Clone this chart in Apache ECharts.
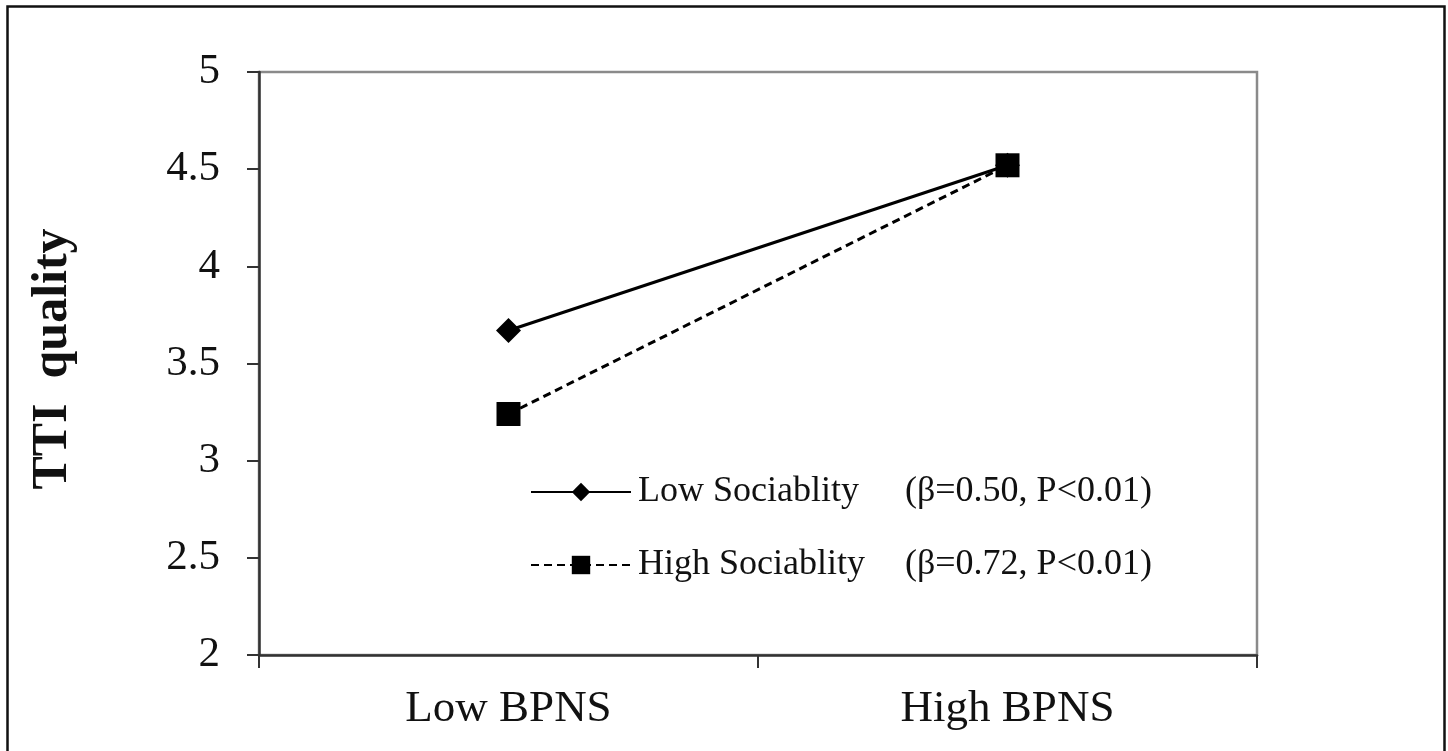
<!DOCTYPE html>
<html>
<head>
<meta charset="utf-8">
<script src="https://cdn.jsdelivr.net/npm/echarts@6/dist/echarts.min.js"></script>
<style>
html,body{margin:0;padding:0;background:#fff;}
#chart{width:1448px;height:751px;}
</style>
</head>
<body>
<div id="chart"></div>
<script>
const categories = ['Low BPNS', 'High BPNS'];
const seriesNames = ['Low Sociablity', 'High Sociablity'];
const seriesStats = ['(β=0.50, P<0.01)', '(β=0.72, P<0.01)'];
const lowSociability = [3.67, 4.52];
const highSociability = [3.24, 4.52];
const yTicks = { min: 2, max: 5, interval: 0.5 };
const yAxisTitle = 'TTI  quality';

const FONT = "'Liberation Serif', 'Times New Roman', serif";
const chart = echarts.init(document.getElementById('chart'));

function legendFor(idx, top) {
  return {
    show: true,
    data: [seriesNames[idx]],
    left: 530,
    top: top,
    itemWidth: 100,
    itemHeight: 23,
    itemGap: 0,
    padding: 0,
    selectedMode: false,
    formatter: function (name) {
      return '{a|' + name + '}{b|' + seriesStats[idx] + '}';
    },
    textStyle: {
      color: '#111',
      fontFamily: FONT,
      fontSize: 36,
      padding: [0, 0, 0, 2],
      rich: {
        a: { fontFamily: FONT, fontSize: 36, color: '#111', width: 267 },
        b: { fontFamily: FONT, fontSize: 36, color: '#111' }
      }
    }
  };
}

chart.setOption({
  animation: false,
  backgroundColor: '#fff',
  graphic: [{
    type: 'rect',
    shape: { x: 7.5, y: 6.5, width: 1437, height: 760 },
    style: { fill: 'none', stroke: '#111', lineWidth: 2.5 },
    silent: true
  }],
  grid: {
    left: 259, right: 191, top: 72, bottom: 96,
    show: true, borderColor: '#8a8a8a', borderWidth: 2.5, backgroundColor: 'transparent'
  },
  legend: [legendFor(0, 474), legendFor(1, 547)],
  xAxis: {
    type: 'category',
    data: categories,
    boundaryGap: true,
    axisLine: { lineStyle: { color: '#333', width: 2.5 } },
    axisTick: { show: true, length: 13, inside: false, lineStyle: { color: '#333', width: 2 } },
    axisLabel: { color: '#111', fontFamily: FONT, fontSize: 45, margin: 32 },
    splitLine: { show: false }
  },
  yAxis: {
    type: 'value',
    min: yTicks.min, max: yTicks.max, interval: yTicks.interval,
    name: yAxisTitle,
    nameLocation: 'middle',
    nameRotate: 90,
    nameGap: 181,
    nameTextStyle: { color: '#111', fontFamily: FONT, fontSize: 50, fontWeight: 'bold', padding: [0, 0, 0, 9] },
    axisLine: { show: true, lineStyle: { color: '#333', width: 2.5 } },
    axisTick: { show: true, length: 12, inside: false, lineStyle: { color: '#333', width: 2 } },
    axisLabel: { color: '#111', fontFamily: FONT, fontSize: 43, margin: 39 },
    splitLine: { show: false }
  },
  series: [
    {
      name: seriesNames[0],
      type: 'line',
      data: lowSociability,
      symbol: 'diamond',
      symbolSize: 25,
      itemStyle: { color: '#000' },
      lineStyle: { color: '#000', width: 3, type: 'solid' },
      z: 3
    },
    {
      name: seriesNames[1],
      type: 'line',
      data: highSociability,
      symbol: 'rect',
      symbolSize: 24,
      itemStyle: { color: '#000' },
      lineStyle: { color: '#000', width: 3, type: [8, 5] },
      z: 4
    }
  ]
});
</script>
</body>
</html>
